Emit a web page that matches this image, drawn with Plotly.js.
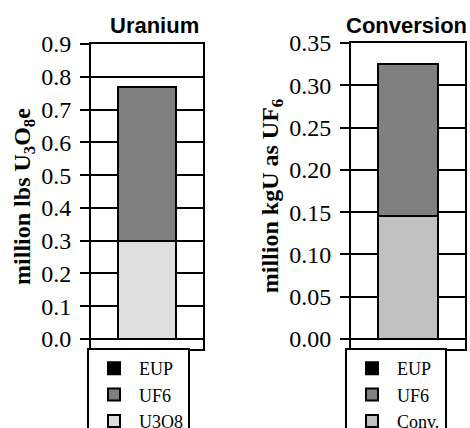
<!DOCTYPE html>
<html>
<head>
<meta charset="utf-8">
<script src="https://cdn.plot.ly/plotly-3.0.1.min.js"></script>
<style>html,body{margin:0;padding:0;background:#fff;}#chart{width:470px;height:428px;}</style>
</head>
<body>
<div id="chart"></div>
<script>
// Left chart: Uranium (million lbs U3O8e)
var catU = ['Uranium'];
var u3o8U = [0.30];
var uf6U = [0.47];
var eupU = [0];
// Right chart: Conversion (million kgU as UF6)
var catC = ['Conversion'];
var convC = [0.145];
var uf6C = [0.18];
var eupC = [0];

var serif = '"Liberation Serif", "Times New Roman", serif';
var sans = '"Liberation Sans", Arial, sans-serif';
var line = {color: '#000', width: 2};

var traces = [
  {type: 'bar', name: 'U3O8', x: catU, y: u3o8U, marker: {color: '#dedede', line: line}, xaxis: 'x', yaxis: 'y', legend: 'legend'},
  {type: 'bar', name: 'UF6', x: catU, y: uf6U, marker: {color: '#808080', line: line}, xaxis: 'x', yaxis: 'y', legend: 'legend'},
  {type: 'bar', name: 'EUP', x: catU, y: eupU, marker: {color: '#000000', line: line}, xaxis: 'x', yaxis: 'y', legend: 'legend'},
  {type: 'bar', name: 'Conv.', x: catC, y: convC, marker: {color: '#c0c0c0', line: line}, xaxis: 'x2', yaxis: 'y2', legend: 'legend2'},
  {type: 'bar', name: 'UF6', x: catC, y: uf6C, marker: {color: '#808080', line: line}, xaxis: 'x2', yaxis: 'y2', legend: 'legend2'},
  {type: 'bar', name: 'EUP', x: catC, y: eupC, marker: {color: '#000000', line: line}, xaxis: 'x2', yaxis: 'y2', legend: 'legend2'}
];

var xCommon = {showline: true, mirror: true, linecolor: '#000', linewidth: 2, showticklabels: false, ticks: '', showgrid: false, zeroline: false, fixedrange: true};
var yCommon = {showline: true, mirror: true, linecolor: '#000', linewidth: 2, ticks: 'outside', ticklen: 9, tickwidth: 2, tickcolor: '#000',
  showgrid: true, gridcolor: '#000', gridwidth: 2, zeroline: true, zerolinecolor: '#000', zerolinewidth: 2,
  tickfont: {family: serif, size: 24, color: '#000'}, tick0: 0, ticklabelstandoff: 4};

var legendCommon = {bgcolor: '#fff', bordercolor: '#000', borderwidth: 2, font: {family: serif, size: 18, color: '#000'},
  traceorder: 'reversed', xanchor: 'left', yanchor: 'top', itemwidth: 40};

var layout = {
  width: 470, height: 428,
  font: {family: serif, size: 24, color: '#000'},
  margin: {l: 0, r: 0, t: 0, b: 0, autoexpand: false},
  paper_bgcolor: '#fff', plot_bgcolor: '#fff',
  barmode: 'stack', bargap: 0.48,
  showlegend: true,
  xaxis: Object.assign({}, xCommon, {domain: [91/470, 203/470], anchor: 'y'}),
  yaxis: Object.assign({}, yCommon, {domain: [79/428, 384/428], range: [-0.0305, 0.9], dtick: 0.1, tickformat: '.1f', anchor: 'x',
    title: {text: '<b>million lbs U<sub>3</sub>O<sub>8</sub>e</b>', font: {family: serif, size: 24, color: '#000'}, standoff: 4}}),
  xaxis2: Object.assign({}, xCommon, {domain: [351/470, 465/470], anchor: 'y2'}),
  yaxis2: Object.assign({}, yCommon, {domain: [79/428, 385/428], range: [-0.0118, 0.35], dtick: 0.05, tickformat: '.2f', anchor: 'x2',
    title: {text: '<b>million kgU as UF<sub>6</sub></b>', font: {family: serif, size: 24, color: '#000'}, standoff: 4}}),
  legend: Object.assign({}, legendCommon, {x: 87/470, y: 80/428}),
  legend2: Object.assign({}, legendCommon, {x: 345/470, y: 80/428}),
  annotations: [
    {text: '<b>Uranium</b>', x: 154/470, y: 1 - 25/428, xref: 'paper', yref: 'paper', xanchor: 'center', yanchor: 'middle', showarrow: false,
      font: {family: sans, size: 22, color: '#000'}},
    {text: '<b>Conversion</b>', x: 406/470, y: 1 - 25/428, xref: 'paper', yref: 'paper', xanchor: 'center', yanchor: 'middle', showarrow: false,
      font: {family: sans, size: 22, color: '#000'}}
  ]
};

Plotly.newPlot('chart', traces, layout, {displayModeBar: false, staticPlot: true});
</script>
</body>
</html>
